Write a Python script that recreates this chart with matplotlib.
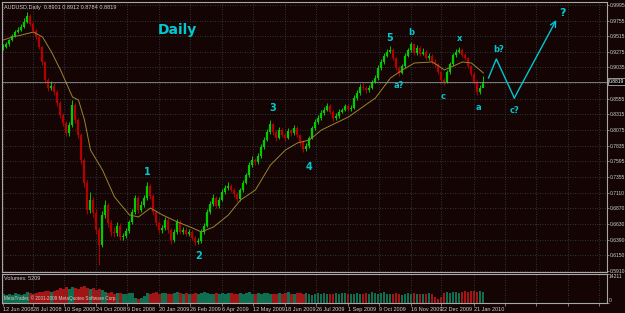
import numpy as np
import matplotlib.pyplot as plt
from matplotlib.transforms import blended_transform_factory

# AUDUSD daily, roughly three trading days per bar
closes = [0.9350, 0.9396, 0.9458, 0.9519, 0.9580, 0.9611, 0.9657, 0.9734, 0.9826, 0.9703,
          0.9596, 0.9504, 0.9350, 0.9120, 0.8843, 0.8720, 0.8751, 0.8659, 0.8490, 0.8306,
          0.8183, 0.8029, 0.8152, 0.8459, 0.8229, 0.7998, 0.7614, 0.7261, 0.6846, 0.7000,
          0.6800, 0.6539, 0.6309, 0.6770, 0.6923, 0.6647, 0.6509, 0.6493, 0.6601, 0.6432,
          0.6447, 0.6524, 0.6662, 0.6816, 0.7031, 0.6846, 0.6923, 0.7031, 0.7215, 0.7062,
          0.6816, 0.6647, 0.6539, 0.6570, 0.6693, 0.6539, 0.6386, 0.6509, 0.6662, 0.6509,
          0.6539, 0.6478, 0.6509, 0.6416, 0.6355, 0.6370, 0.6509, 0.6601, 0.6816, 0.6939,
          0.7031, 0.6908, 0.7000, 0.7123, 0.7184, 0.7215, 0.7154, 0.7092, 0.7016, 0.7154,
          0.7261, 0.7384, 0.7537, 0.7614, 0.7583, 0.7675, 0.7814, 0.7922, 0.8044, 0.8167,
          0.8044, 0.7952, 0.8075, 0.7998, 0.7952, 0.8060, 0.8029, 0.8106, 0.7998, 0.7891,
          0.7784, 0.7830, 0.7952, 0.8106, 0.8198, 0.8260, 0.8336, 0.8382, 0.8444, 0.8352,
          0.8260, 0.8290, 0.8352, 0.8382, 0.8444, 0.8398, 0.8413, 0.8567, 0.8644, 0.8736,
          0.8720, 0.8690, 0.8720, 0.8812, 0.8874, 0.9028, 0.9120, 0.9212, 0.9274, 0.9304,
          0.9181, 0.9028, 0.8951, 0.9058, 0.9212, 0.9304, 0.9396, 0.9258, 0.9335, 0.9242,
          0.9274, 0.9181, 0.9212, 0.9120, 0.9089, 0.8966, 0.8843, 0.8812, 0.8966, 0.9089,
          0.9227, 0.9274, 0.9304, 0.9227, 0.9181, 0.9058, 0.8935, 0.8812, 0.8659, 0.8720,
          0.8819]

highs = [0.9390, 0.9430, 0.9480, 0.9550, 0.9610, 0.9650, 0.9700, 0.9790, 0.9880, 0.9850,
         0.9740, 0.9630, 0.9530, 0.9370, 0.9140, 0.8880, 0.8820, 0.8790, 0.8690, 0.8520,
         0.8340, 0.8210, 0.8200, 0.8530, 0.8490, 0.8260, 0.8030, 0.7650, 0.7300, 0.7120,
         0.7050, 0.6860, 0.6590, 0.6830, 0.7000, 0.6960, 0.6700, 0.6580, 0.6660, 0.6640,
         0.6500, 0.6570, 0.6700, 0.6860, 0.7080, 0.7060, 0.6980, 0.7080, 0.7280, 0.7240,
         0.7090, 0.6850, 0.6680, 0.6620, 0.6740, 0.6720, 0.6570, 0.6550, 0.6710, 0.6690,
         0.6590, 0.6580, 0.6550, 0.6540, 0.6450, 0.6420, 0.6550, 0.6640, 0.6860, 0.6990,
         0.7090, 0.7060, 0.7040, 0.7170, 0.7230, 0.7280, 0.7250, 0.7190, 0.7120, 0.7190,
         0.7300, 0.7420, 0.7580, 0.7680, 0.7650, 0.7720, 0.7860, 0.7970, 0.8090, 0.8230,
         0.8190, 0.8080, 0.8120, 0.8110, 0.8030, 0.8100, 0.8090, 0.8150, 0.8130, 0.8020,
         0.7920, 0.7880, 0.7990, 0.8140, 0.8240, 0.8300, 0.8380, 0.8430, 0.8490, 0.8470,
         0.8380, 0.8340, 0.8390, 0.8420, 0.8480, 0.8470, 0.8460, 0.8610, 0.8690, 0.8780,
         0.8790, 0.8750, 0.8770, 0.8850, 0.8920, 0.9070, 0.9160, 0.9250, 0.9320, 0.9360,
         0.9330, 0.9200, 0.9060, 0.9090, 0.9250, 0.9340, 0.9420, 0.9410, 0.9380, 0.9360,
         0.9330, 0.9300, 0.9260, 0.9240, 0.9160, 0.9110, 0.8990, 0.8880, 0.9000, 0.9120,
         0.9260, 0.9320, 0.9350, 0.9330, 0.9260, 0.9200, 0.9080, 0.8960, 0.8840, 0.8760,
         0.8912]

lows = [0.9300, 0.9330, 0.9370, 0.9440, 0.9500, 0.9560, 0.9590, 0.9640, 0.9720, 0.9680,
        0.9570, 0.9470, 0.9320, 0.9080, 0.8800, 0.8680, 0.8690, 0.8620, 0.8450, 0.8260,
        0.8140, 0.7980, 0.7990, 0.8120, 0.8180, 0.7950, 0.7560, 0.7200, 0.6780, 0.6800,
        0.6740, 0.6470, 0.6000, 0.6280, 0.6720, 0.6580, 0.6440, 0.6430, 0.6450, 0.6380,
        0.6390, 0.6410, 0.6490, 0.6630, 0.6790, 0.6800, 0.6810, 0.6890, 0.7000, 0.7020,
        0.6770, 0.6600, 0.6490, 0.6500, 0.6540, 0.6500, 0.6330, 0.6350, 0.6480, 0.6470,
        0.6480, 0.6440, 0.6450, 0.6380, 0.6310, 0.6320, 0.6340, 0.6480, 0.6580, 0.6790,
        0.6910, 0.6870, 0.6880, 0.6980, 0.7090, 0.7160, 0.7120, 0.7050, 0.6980, 0.6990,
        0.7130, 0.7240, 0.7360, 0.7510, 0.7540, 0.7560, 0.7650, 0.7790, 0.7900, 0.8020,
        0.8000, 0.7910, 0.7930, 0.7960, 0.7910, 0.7930, 0.7990, 0.8000, 0.7960, 0.7850,
        0.7740, 0.7750, 0.7800, 0.7930, 0.8080, 0.8170, 0.8230, 0.8310, 0.8360, 0.8320,
        0.8220, 0.8230, 0.8260, 0.8330, 0.8360, 0.8370, 0.8370, 0.8390, 0.8540, 0.8620,
        0.8690, 0.8650, 0.8660, 0.8700, 0.8790, 0.8850, 0.9000, 0.9090, 0.9190, 0.9250,
        0.9150, 0.8990, 0.8910, 0.8930, 0.9030, 0.9190, 0.9280, 0.9220, 0.9230, 0.9210,
        0.9220, 0.9150, 0.9150, 0.9090, 0.9050, 0.8930, 0.8800, 0.8770, 0.8790, 0.8940,
        0.9060, 0.9200, 0.9250, 0.9200, 0.9150, 0.9020, 0.8900, 0.8770, 0.8620, 0.8630,
        0.8784]

volumes = [4200, 3900, 4500, 4100, 4800, 4300, 3800, 4600, 5200, 4700,
           4400, 5000, 5600, 5300, 6100, 5800, 5200, 6000, 6600, 7200,
           6900, 7600, 7100, 7900, 7400, 6800, 7700, 8200, 7500, 6900,
           7300, 6600, 7000, 6200, 5400, 4900, 5200, 4600, 5000, 4700,
           4600, 4200, 5100, 4800, 2600, 1800, 2400, 3600, 5000, 4500,
           4900, 5200, 4400, 4700, 5100, 4600, 4300, 4800, 5300, 4700,
           4500, 4900, 4200, 4600, 5000, 4400, 4800, 5200, 4700, 4300,
           4600, 5000, 4500, 4800, 4200, 4700, 5100, 4600, 4400, 4900,
           4300, 4800, 5200, 4600, 4500, 4900, 4300, 4700, 5100, 4500,
           4200, 4600, 5000, 4400, 4800, 5500, 4600, 4300, 4700, 5000,
           4400, 4800, 4500, 4100, 4600, 4900, 4300, 4700, 4500, 4200,
           4600, 4900, 4300, 4700, 5000, 4400, 4200, 4600, 4800, 4300,
           4500, 4900, 4600, 5200, 4700, 4400, 4800, 5300, 4600, 4200,
           4500, 4900, 4300, 4100, 4600, 5000, 4400, 4800, 4200, 4600,
           4300, 4500, 4700, 4400, 3000, 2200, 3100, 4700, 5300, 4700,
           5200, 5600, 5000, 5400, 5900, 5300, 5700, 6000, 5500, 5800,
           5209]
vol_max = 14211

# moving average (bar index, price)
ma_bar = [0, 3, 6, 10, 13, 16, 19, 23, 25, 27, 29, 33, 37, 42, 45, 49, 53, 58, 63, 66,
          70, 75, 79, 84, 89, 94, 98, 102, 106, 115, 124, 129, 133, 137, 143, 147, 153, 156, 160]
ma_val = [0.9458, 0.9504, 0.9534, 0.9580, 0.9504, 0.9273, 0.8997, 0.8582, 0.8536, 0.8229,
          0.7768, 0.7461, 0.7047, 0.6770, 0.6739, 0.6877, 0.6770, 0.6662, 0.6570, 0.6509,
          0.6585, 0.6770, 0.7000, 0.7154, 0.7538, 0.7768, 0.7876, 0.7922, 0.8075, 0.8275,
          0.8567, 0.8874, 0.8997, 0.9104, 0.9120, 0.8997, 0.9120, 0.9104, 0.8951]

price_ticks = [0.9995, 0.9755, 0.9515, 0.9275, 0.9035, 0.8795, 0.8555, 0.8315, 0.8075,
               0.7835, 0.7595, 0.7355, 0.7110, 0.6870, 0.6630, 0.6390, 0.6150, 0.5910]

date_labels = ['12 Jun 2008', '28 Jul 2008', '10 Sep 2008', '24 Oct 2008', '9 Dec 2008',
               '20 Jan 2009', '26 Feb 2009', '6 Apr 2009', '12 May 2009', '18 Jun 2009',
               '26 Jul 2009', '1 Sep 2009', '9 Oct 2009', '16 Nov 2009', '22 Dec 2009',
               '21 Jan 2010']
date_bars = [-0.3, 10, 20.3, 31, 41.3, 51.7, 62.3, 73, 83.3, 94, 104.3, 115, 125.3,
             135.7, 146, 156.7]
grid_bars = date_bars + [167.2, 177.6, 188.1, 198.5]

# wave count labels and the projected path
wave_text = ['1', '2', '3', '4', '5', 'b', 'a?', 'c', 'x', 'a', 'b?', 'c?', '?']
wave_bar = [48, 65, 89.7, 102, 128.7, 136, 131.7, 146.7, 152, 158.3, 165, 170.3, 186.3]
wave_price = [0.7430, 0.6140, 0.8413, 0.7507, 0.9488, 0.9565, 0.8766, 0.8582, 0.9473,
              0.8428, 0.9319, 0.8367, 0.9872]
proj_bar = [161.7, 164.3, 170.3, 184.3]
proj_price = [0.8874, 0.9166, 0.8567, 0.9765]

plt.rcParams['font.family'] = ['Liberation Sans Narrow', 'Liberation Sans', 'DejaVu Sans']

bg = '#140404'
grid_col = '#3a4848'
txt_col = '#cfcfcf'
spine_col = '#a8a8a8'
up_col = '#00cc00'
dn_col = '#b40000'
cyan = '#00c8d0'
fs = 4
pfs = 3.6

c = np.array(closes)
h = np.array(highs)
l = np.array(lows)
o = np.concatenate([[c[0]], c[:-1]])
x = np.arange(len(c))
up = c >= o

fig = plt.figure(figsize=(6.25, 3.13), dpi=100, facecolor=bg)
ax = fig.add_axes([2/625, 1-272/313, 605/625, 270/313], facecolor=bg)
axv = fig.add_axes([2/625, 1-303/313, 605/625, 29/313], facecolor=bg)

# price bars
ax.vlines(x[up], l[up], h[up], color=up_col, lw=0.7)
ax.vlines(x[up], o[up], c[up], color=up_col, lw=1.6)
ax.vlines(x[~up], l[~up], h[~up], color=dn_col, lw=0.7)
ax.vlines(x[~up], o[~up], c[~up], color=dn_col, lw=1.6)
ax.plot(ma_bar, ma_val, color='#9a8430', lw=0.7)
ax.axhline(c[-1], color='#8a9090', lw=0.6)

ax.set_xlim(-0.5, 201.2)
ax.set_ylim(0.5894, 1.0041)
ax.set_xticks(grid_bars)
ax.set_xticklabels([])
ax.tick_params(axis='x', length=0)
ax.yaxis.tick_right()
ax.set_yticks(price_ticks)
ax.set_yticklabels(['' if p == 0.8795 else f'{p:.4f}' for p in price_ticks])
ax.tick_params(axis='y', labelsize=pfs, labelcolor=txt_col, color=spine_col,
               length=1.5, width=0.5, pad=0.4)
ax.grid(color=grid_col, ls=(0, (1, 2)), lw=0.6)
for s in ax.spines.values():
    s.set_color(spine_col)
    s.set_linewidth(0.8)

# current price marker on the price scale
tr = blended_transform_factory(ax.transAxes, ax.transData)
ax.text(1.003, c[-1], f'{closes[-1]:.4f}', transform=tr, fontsize=pfs, color='white',
        va='center', ha='left', bbox=dict(boxstyle='square,pad=0.12', fc='black', ec='#d0d0d0', lw=0.5))

ax.text(0.004, 0.99, 'AUDUSD,Daily  0.8901 0.8912 0.8784 0.8819', transform=ax.transAxes,
        fontsize=fs, color=txt_col, va='top', ha='left')
ax.text(58, 0.9611, 'Daily', color=cyan, fontsize=10, fontweight='bold', ha='center',
        va='center', family='DejaVu Sans')

for t, b, p in zip(wave_text, wave_bar, wave_price):
    size = 7 if t in ['1', '2', '3', '4', '5'] else 6
    if t == '?':
        size = 8
    ax.text(b, p, t, color=cyan, fontsize=size, fontweight='bold', ha='center', va='center',
            family='DejaVu Sans')

ax.plot(proj_bar[:-1], proj_price[:-1], color=cyan, lw=1)
ax.annotate('', xy=(proj_bar[-1], proj_price[-1]), xytext=(proj_bar[-2], proj_price[-2]),
            arrowprops=dict(arrowstyle='->', color=cyan, lw=1, shrinkA=0, shrinkB=0))

# volume panel
vol_colors = np.where(up, '#0f6e50', '#a31515')
axv.bar(x, volumes, width=0.7, color=vol_colors)
axv.set_xlim(-0.5, 201.2)
axv.set_ylim(0, vol_max)
axv.yaxis.tick_right()
axv.set_yticks([0, vol_max])
axv.set_yticklabels([])
axv.tick_params(axis='y', color=spine_col, length=1.5, width=0.5)
vtr = blended_transform_factory(axv.transAxes, axv.transData)
axv.text(1.003, vol_max, str(vol_max), transform=vtr, fontsize=pfs, color=txt_col, va='top', ha='left')
axv.text(1.003, 0, '0', transform=vtr, fontsize=pfs, color=txt_col, va='bottom', ha='left')
axv.set_xticks(grid_bars)
axv.set_xticklabels(date_labels + [''] * 4, ha='left')
axv.tick_params(axis='x', labelsize=fs, labelcolor=txt_col, color=spine_col,
                length=2, width=0.5, pad=1)
axv.grid(axis='x', color=grid_col, ls=(0, (1, 2)), lw=0.6)
for s in axv.spines.values():
    s.set_color(spine_col)
    s.set_linewidth(0.8)
axv.text(0.004, 0.93, 'Volumes: 5209', transform=axv.transAxes, fontsize=fs,
         color=txt_col, va='top', ha='left')
axv.text(0.004, 0.06, 'MetaTrader, \u00a9 2001-2009 MetaQuotes Software Corp.',
         transform=axv.transAxes, fontsize=3.3, color=txt_col, va='bottom', ha='left')

fig.savefig('out.png', dpi=100, facecolor=bg)
